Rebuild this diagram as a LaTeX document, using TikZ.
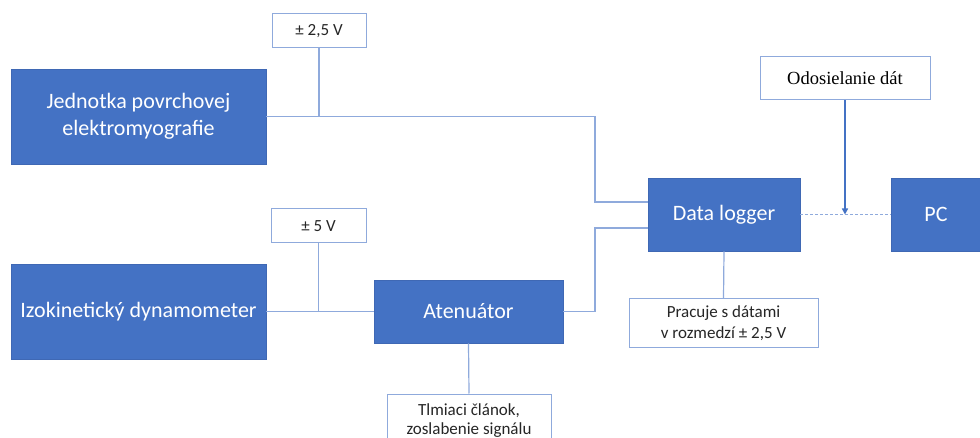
\documentclass[tikz,border=0pt]{standalone}
\usepackage{fontspec}
\setmainfont{Carlito}
\newfontfamily\timesf{Liberation Serif}
\usetikzlibrary{arrows.meta}
\definecolor{boxblue}{HTML}{4472C4}
\definecolor{boxedge}{HTML}{3F68B4}
\definecolor{linkblue}{HTML}{8FAADC}
\tikzset{
  bluebox/.style={rectangle, fill=boxblue, draw=boxedge, line width=0.6pt, text=white, align=center, inner sep=0pt, font=\fontsize{22}{27}\selectfont},
  notebox/.style={rectangle, fill=white, draw=linkblue, line width=1pt, text=black!85, align=center, inner sep=0pt, font=\fontsize{17}{21}\selectfont},
  link/.style={draw=linkblue, line width=1.2pt},
}
\begin{document}
\begin{tikzpicture}[x=1pt,y=-1pt]
\useasboundingbox (0,0) rectangle (980,438);
\clip (0,0) rectangle (980,438);
\fill[white] (0,0) rectangle (980,438);

\node[notebox, minimum width=94pt, minimum height=34pt] (v25) at (319,31) {± 2,5 V};
\node[bluebox, minimum width=255pt, minimum height=95pt] (emg) at (138.5,116.5) {Jednotka povrchovej\\elektromyografie};
\node[bluebox, minimum width=152pt, minimum height=73pt] (logger) at (724,214.5) {Data logger};
\node[bluebox, minimum width=90pt, minimum height=73pt] (pc) at (936,214.5) {PC};
\node[notebox, minimum width=170pt, minimum height=43pt, font=\timesf\fontsize{18.5}{22}\selectfont, text=black] (odo) at (845,78.5) {Odosielanie dát};
\node[notebox, minimum width=189pt, minimum height=48pt] (prac) at (723.5,323) {Pracuje s dátami\\v rozmedzí ± 2,5 V};
\node[notebox, minimum width=95pt, minimum height=34pt] (v5) at (318.5,226) {± 5 V};
\node[bluebox, minimum width=255pt, minimum height=95pt] (izo) at (138.5,311.5) {Izokinetický dynamometer};
\node[bluebox, minimum width=189pt, minimum height=63pt] (aten) at (468.5,311.5) {Atenuátor};
\node[notebox, minimum width=164pt, minimum height=54pt, font=\fontsize{17}{19}\selectfont] (tlm) at (469,421) {Tlmiaci článok,\\zoslabenie signálu};

\coordinate (b1) at (595,202);
\coordinate (b2) at (595,228);

\draw[link] (v25.south) -- (v25.south |- emg.east);
\draw[link] (emg.east) -| (b1) -- (logger.west |- b1);
\draw[link] (aten.east) -| (b2) -- (logger.west |- b2);
\draw[link] (izo.east) -- (aten.west);
\draw[link] (v5.south) -- (v5.south |- izo.east);
\draw[link] (aten.south) -- (tlm.north);
\draw[link] (logger.south) -- (prac.north);
\draw[link, dashed, dash pattern=on 3pt off 2pt] (logger.east) -- (pc.west);
\draw[draw=boxblue, line width=1.4pt, -{Triangle[length=6pt,width=6pt]}] (odo.south) -- (odo.south |- logger.east);
\end{tikzpicture}
\end{document}
